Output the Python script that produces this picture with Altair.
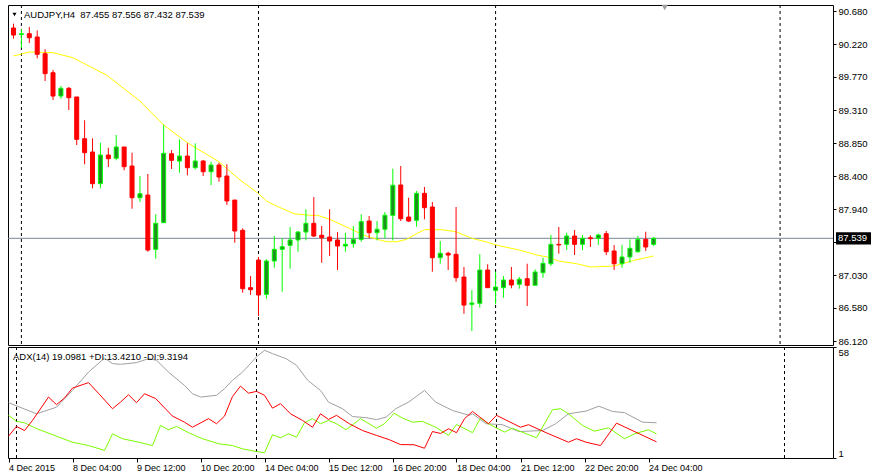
import altair as alt
import pandas as pd

# ---------------- data ----------------
symbol = "AUDJPY,H4"
opens = [90.445, 90.355, 90.366, 90.321, 90.090, 89.827, 89.505, 89.612, 89.492, 88.915,
         88.732, 88.294, 88.690, 88.645, 88.801, 88.538, 88.100, 88.137, 87.387, 87.755,
         88.708, 88.607, 88.676, 88.515, 88.607, 88.459, 88.552, 88.400, 88.068, 87.650,
         86.857, 87.239, 86.765, 87.226, 87.387, 87.442, 87.516, 87.626, 87.746, 87.581,
         87.557, 87.516, 87.433, 87.465, 87.525, 87.778, 87.617, 87.664, 87.857, 88.276,
         87.833, 87.788, 88.161, 87.972, 87.271, 87.332, 87.318, 87.004, 86.627, 86.641,
         87.101, 86.820, 86.857, 86.963, 86.904, 86.981, 86.890, 87.064, 87.188, 87.456,
         87.456, 87.571, 87.456, 87.547, 87.539, 87.603, 87.364, 87.188, 87.281, 87.354,
         87.525, 87.455]
highs = [90.505, 90.431, 90.459, 90.413, 90.151, 89.865, 89.644, 89.630, 89.492, 89.170,
         88.921, 88.860, 88.791, 88.967, 88.801, 88.722, 88.400, 88.428, 87.871, 89.105,
         88.759, 88.907, 88.852, 88.852, 88.621, 88.598, 88.584, 88.562, 88.068, 87.677,
         87.018, 87.281, 87.249, 87.571, 87.539, 87.695, 87.640, 87.940, 88.110, 87.709,
         87.940, 87.626, 87.617, 87.709, 87.871, 87.847, 87.778, 87.903, 88.501, 88.538,
         88.100, 88.193, 88.248, 88.041, 87.502, 87.354, 87.972, 87.143, 86.825, 87.318,
         87.180, 87.078, 87.018, 87.143, 87.004, 87.188, 87.111, 87.271, 87.585, 87.695,
         87.617, 87.654, 87.585, 87.581, 87.603, 87.640, 87.447, 87.447, 87.525, 87.571,
         87.630, 87.556]
lows = [90.297, 90.169, 90.238, 90.026, 89.713, 89.450, 89.468, 89.312, 88.828, 88.562,
        88.230, 88.230, 88.524, 88.617, 88.479, 87.948, 88.041, 87.354, 87.257, 87.751,
        88.497, 88.446, 88.410, 88.493, 88.400, 88.276, 88.321, 87.999, 87.478, 86.787,
        86.756, 86.466, 86.705, 87.133, 86.801, 87.119, 87.354, 87.511, 87.557, 87.202,
        87.295, 87.101, 87.354, 87.409, 87.492, 87.539, 87.511, 87.539, 87.511, 87.778,
        87.764, 87.699, 87.802, 87.078, 87.188, 87.101, 86.939, 86.497, 86.258, 86.580,
        86.857, 86.627, 86.718, 86.848, 86.843, 86.604, 86.890, 86.995, 87.156, 87.326,
        87.377, 87.308, 87.377, 87.419, 87.447, 87.308, 87.101, 87.133, 87.202, 87.340,
        87.364, 87.432]
closes = [90.348, 90.366, 90.311, 90.082, 89.814, 89.505, 89.612, 89.482, 88.907, 88.722,
          88.294, 88.690, 88.639, 88.801, 88.529, 88.100, 88.155, 87.377, 87.746, 88.714,
          88.617, 88.676, 88.515, 88.607, 88.459, 88.552, 88.386, 88.055, 87.640, 86.843,
          86.829, 86.756, 87.226, 87.387, 87.423, 87.516, 87.626, 87.746, 87.571, 87.547,
          87.502, 87.433, 87.456, 87.525, 87.769, 87.617, 87.664, 87.857, 88.272, 87.810,
          87.778, 88.161, 87.962, 87.271, 87.332, 87.308, 86.995, 86.617, 86.645, 87.101,
          86.857, 86.866, 86.963, 86.894, 86.973, 86.890, 87.074, 87.194, 87.456, 87.447,
          87.571, 87.456, 87.539, 87.534, 87.585, 87.354, 87.188, 87.281, 87.401, 87.525,
          87.419, 87.539]

# moving average (yellow) read at bar positions
ma_bar = [0, 2, 5, 7.5, 11.75, 16, 19, 22, 26, 28.5, 31, 32, 33, 35.5, 37.5, 38.5, 40, 42.5,
          44.25, 46, 47.25, 48.5, 49.75, 51, 52, 54.25, 56, 58, 59.75, 61.25, 64, 66.25, 67.5,
          69, 71.25, 73, 76, 76.75, 78.5, 80, 81]
ma_val = [90.058, 90.113, 90.104, 90.035, 89.796, 89.436, 89.105, 88.860, 88.598, 88.359,
          88.158, 88.055, 87.999, 87.879, 87.857, 87.857, 87.802, 87.677, 87.585, 87.525,
          87.492, 87.492, 87.525, 87.603, 87.658, 87.658, 87.630, 87.539, 87.492, 87.442,
          87.377, 87.308, 87.281, 87.225, 87.188, 87.143, 87.156, 87.180, 87.235, 87.271,
          87.295]

# ADX(14) panel
adx_bar = [0, 3.5, 6, 8, 10, 12, 13, 14, 16, 17.5, 18.5, 20, 22, 23, 24, 26, 27, 28, 29.25, 31,
           32, 33, 34.7, 36, 37.4, 39, 40, 41.75, 43, 44.7, 46, 47.2, 48.4, 50, 52, 53.4, 55.5,
           57.6, 58, 59.7, 61.75, 63.8, 66.75, 68.4, 70, 72.2, 73.8, 75.5, 77, 79.25, 81]
adx_val = [29.4, 23.7, 27.1, 35.7, 45.1, 52.3, 49.5, 49.1, 50.0, 52.0, 51.2, 45.1, 38.3, 34.0,
           32.3, 33.2, 36.6, 40.9, 45.1, 52.9, 56.3, 54.6, 52.0, 48.6, 40.9, 35.7, 29.7, 26.3,
           22.3, 21.7, 20.7, 22.0, 26.3, 29.7, 35.7, 29.7, 25.4, 22.9, 23.7, 18.6, 18.1, 14.6,
           15.1, 18.6, 23.7, 25.1, 27.6, 24.9, 24.3, 19.4, 19.1]
pdi_bar = [0, 1, 2, 3.4, 6, 8, 10, 12, 13, 14.25, 16.3, 18, 19, 20, 21, 22.6, 24.25, 26.3, 28,
           29.25, 31, 32, 33, 34, 35, 36, 37, 38, 39, 40, 41, 42.2, 44, 46, 47, 48.2, 49.25,
           50.5, 51.75, 53.4, 55, 56, 58, 59, 60, 62, 63, 64, 66, 68, 69, 70, 71.75, 73.2, 75,
           77, 78.25, 80, 81]
pdi_val = [22.9, 19.8, 19.1, 16.3, 12.2, 9.1, 7.4, 4.9, 13.4, 10.9, 9.1, 7.4, 17.7, 15.5, 17.2,
           13.8, 10.9, 8.3, 7.4, 5.7, 4.3, 3.7, 12.9, 11.4, 13.4, 11.7, 19.1, 21.2, 18.6, 20.3,
           18.6, 15.5, 21.2, 16.3, 18.6, 24.0, 21.5, 19.4, 19.8, 16.8, 12.6, 18.2, 14.0, 21.5,
           18.6, 14.3, 16.3, 14.6, 11.4, 25.8, 26.3, 23.7, 17.7, 14.8, 16.5, 10.9, 13.4, 15.5,
           13.4]
mdi_bar = [0, 1, 2, 3, 5, 6, 7, 8, 10, 11.3, 13, 14, 15, 16, 17, 18.4, 20.5, 22, 23, 25, 26, 27,
           28, 29, 30, 31, 32, 33, 34, 35.25, 36.75, 38, 39, 40, 41, 42.6, 44.25, 46, 47.6, 49,
           50.7, 52, 53, 54, 55, 56, 57, 58, 60, 61, 64, 65, 67.2, 70, 71, 72.2, 74, 76, 81]
mdi_val = [12.2, 17.2, 15.1, 20.3, 32.3, 28.4, 31.8, 36.9, 39.7, 34.0, 26.3, 29.7, 33.5, 29.4,
           34.0, 31.5, 22.5, 19.4, 16.8, 21.2, 18.6, 22.5, 32.6, 37.9, 34.3, 35.2, 33.2, 26.6,
           28.9, 23.7, 20.3, 16.8, 23.7, 20.8, 22.9, 18.6, 15.1, 12.6, 10.4, 7.9, 7.8, 6.0, 14.6,
           13.6, 16.0, 14.0, 21.2, 24.9, 18.6, 22.9, 16.8, 18.1, 14.0, 9.1, 10.9, 9.1, 7.4, 18.9,
           9.3]
adx_last, pdi_last, mdi_last = 19.0981, 13.4210, 9.3194

price_ticks = [90.68, 90.22, 89.77, 89.31, 88.85, 88.40, 87.94, 87.49, 87.03, 86.58, 86.12]
hidden_tick = 87.49  # its label sits under the current-price box
adx_ticks = [1, 58]
x_tick_bars = [0, 8, 16, 24, 32, 40, 48, 56, 64, 72, 80]
x_tick_labels = ["4 Dec 2015", "8 Dec 04:00", "9 Dec 12:00", "10 Dec 20:00", "14 Dec 04:00",
                 "15 Dec 12:00", "16 Dec 20:00", "18 Dec 04:00", "21 Dec 12:00",
                 "22 Dec 20:00", "24 Dec 04:00"]
separator_bars = [1, 31, 61, 97]
shift_bar = [82.4]

# ---------------- chart ----------------
FONT = "Liberation Sans"
W, H1, H2 = 825, 340, 111
X0 = -0.0625
xs = alt.Scale(domain=[X0, X0 + W / 8], nice=False, zero=False)
ys = alt.Scale(domain=[86.065, 90.763], nice=False, zero=False)
ads = alt.Scale(domain=[1, 58], nice=False, zero=False)

cdf = pd.DataFrame({"bar": list(range(len(opens))), "o": opens, "h": highs,
                    "l": lows, "c": closes})
cdf["dir"] = ["up" if c >= o else "down" for o, c in zip(opens, closes)]

yax = alt.Axis(orient="right", values=price_ticks, title=None, grid=False,
               labelExpr=f"abs(datum.value - {hidden_tick}) < 0.001 ? '' : format(datum.value, '.3f')",
               domain=False, tickSize=3, tickColor="black", labelPadding=2,
               labelFont=FONT, labelFontSize=9.5, labelColor="black", labelOverlap=False)
X = lambda f: alt.X(f, scale=xs, axis=None)
Y = lambda f: alt.Y(f, scale=ys, axis=yax)

sep_df = pd.DataFrame({"bar": separator_bars})
seps = alt.Chart(sep_df).mark_rule(color="black", strokeDash=[3, 3], strokeWidth=1).encode(
    x=X("bar:Q"))

last_df = pd.DataFrame({"p": [closes[-1]]})
pline = alt.Chart(last_df).mark_rule(color="#778899", strokeWidth=1).encode(y=Y("p:Q"))

ma = alt.Chart(pd.DataFrame({"bar": ma_bar, "v": ma_val})).mark_line(
    color="#ffff00", strokeWidth=1, clip=True).encode(x=X("bar:Q"), y=Y("v:Q"))

wicks = alt.Chart(cdf).mark_rule(strokeWidth=1, clip=True).encode(
    x=X("bar:Q"), y=Y("l:Q"), y2="h:Q",
    color=alt.Color("dir:N", scale=alt.Scale(domain=["up", "down"],
                                             range=["#00ff00", "#ff0000"]), legend=None))
bodies = alt.Chart(cdf).mark_bar(size=4, strokeWidth=1, clip=True).encode(
    x=X("bar:Q"), y=Y("o:Q"), y2="c:Q",
    fill=alt.Fill("dir:N", scale=alt.Scale(domain=["up", "down"],
                                           range=["#1f8f1f", "#ff0000"]), legend=None),
    stroke=alt.Stroke("dir:N", scale=alt.Scale(domain=["up", "down"],
                                               range=["#00ff00", "#ff0000"]), legend=None))

header = (f"{symbol}\u00a0 {opens[-1]:.3f} {highs[-1]:.3f} {lows[-1]:.3f} {closes[-1]:.3f}")
head = alt.Chart(pd.DataFrame({"t": [header]})).mark_text(
    align="left", baseline="middle", font=FONT, fontSize=9.5, color="black").encode(
    x=alt.value(16), y=alt.value(9.5), text="t:N")
head_tri = alt.Chart(pd.DataFrame({"t": [header]})).mark_point(
    shape="triangle-down", filled=True, color="black", size=16, opacity=1).encode(
    x=alt.value(6.5), y=alt.value(9.5))
shift_tri = alt.Chart(pd.DataFrame({"bar": shift_bar})).mark_point(
    shape="triangle-down", filled=True, color="#a0a0a0", size=40, opacity=1).encode(
    x=X("bar:Q"), y=alt.value(2.5))

pbox = alt.Chart(last_df).transform_calculate(
    lo="datum.p - 0.085", hi="datum.p + 0.085").mark_rect(color="black", clip=False).encode(
    x=alt.value(W + 3), x2=alt.value(W + 38), y=Y("lo:Q"), y2="hi:Q")
ptxt = alt.Chart(last_df).mark_text(align="left", baseline="middle", color="white",
                                    font=FONT, fontSize=9.5).encode(
    x=alt.value(W + 5), y=Y("p:Q"), text=alt.Text("p:Q", format=".3f"))

main = alt.layer(pline, seps, ma, wicks, bodies, head, head_tri, shift_tri, pbox, ptxt).properties(
    width=W, height=H1)

# ADX panel
label_expr = "[" + ",".join(f"'{s}'" for s in x_tick_labels) + "][round(datum.value / 8)]"
xax = alt.Axis(values=x_tick_bars, labelExpr=label_expr, labelAlign="left", labelFlush=False,
               labelOverlap=False, tickSize=4, tickColor="black", labelPadding=1,
               domain=False, grid=False, title=None, labelFont=FONT, labelFontSize=9,
               labelColor="black")
aax = alt.Axis(orient="right", values=adx_ticks, format="d", labelFlush=True, title=None,
               grid=False, domain=False, tickSize=3, tickColor="black", labelPadding=2,
               labelFont=FONT, labelFontSize=9.5, labelColor="black")
AX = lambda f: alt.X(f, scale=xs, axis=xax)
AY = lambda f: alt.Y(f, scale=ads, axis=aax)

adx_line = alt.Chart(pd.DataFrame({"bar": adx_bar, "v": adx_val})).mark_line(
    color="#a0a0a0", strokeWidth=1).encode(x=AX("bar:Q"), y=AY("v:Q"))
pdi_line = alt.Chart(pd.DataFrame({"bar": pdi_bar, "v": pdi_val})).mark_line(
    color="#7cfc00", strokeWidth=1).encode(x=AX("bar:Q"), y=AY("v:Q"))
mdi_line = alt.Chart(pd.DataFrame({"bar": mdi_bar, "v": mdi_val})).mark_line(
    color="#ff0000", strokeWidth=1).encode(x=AX("bar:Q"), y=AY("v:Q"))
seps2 = alt.Chart(sep_df).mark_rule(color="black", strokeDash=[3, 3], strokeWidth=1).encode(
    x=AX("bar:Q"))
adx_text = f"ADX(14) {adx_last:.4f} +DI:{pdi_last:.4f} -DI:{mdi_last:.4f}"
adx_head = alt.Chart(pd.DataFrame({"t": [adx_text]})).mark_text(
    align="left", baseline="middle", font=FONT, fontSize=9.5, color="black").encode(
    x=alt.value(5), y=alt.value(9.5), text="t:N")

adxp = alt.layer(seps2, adx_line, pdi_line, mdi_line, adx_head).properties(width=W, height=H2)

chart = alt.vconcat(main, adxp, spacing=2, bounds="flush").resolve_scale(
    x="independent", y="independent").properties(
    padding={"left": 6, "top": 4, "right": 0, "bottom": 0}, background="white"
).configure_view(stroke="black", strokeWidth=1)

chart.save("out.html", embed_options={"renderer": "svg", "actions": False})
